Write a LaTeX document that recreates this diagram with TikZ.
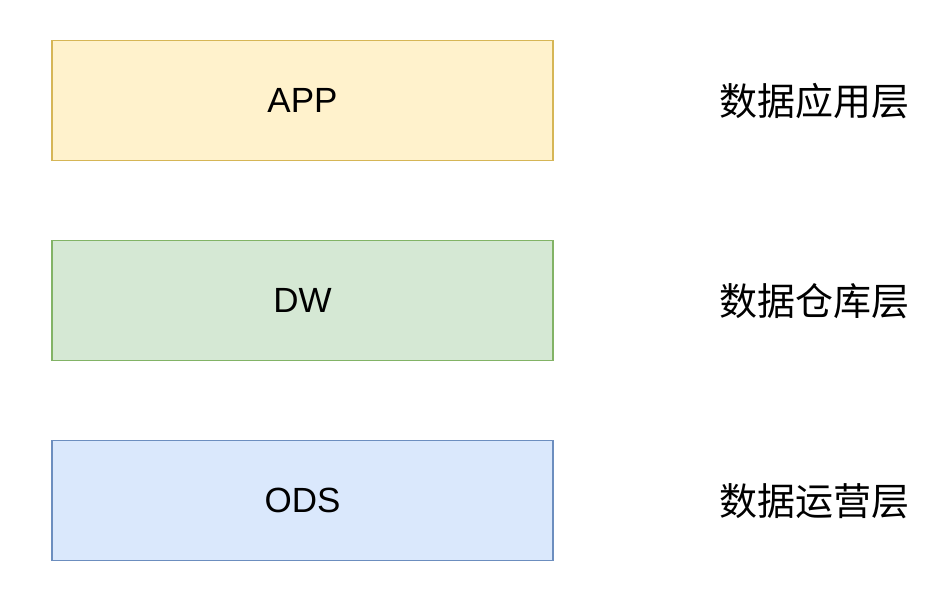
\documentclass[tikz,border=0pt]{standalone}
\usepackage{fontspec}
\setmainfont{Liberation Sans}
\newfontfamily\cjk{Noto Sans CJK SC}
\usepackage{xcolor}
\definecolor{appfill}{HTML}{FFF2CC}
\definecolor{appline}{HTML}{D6B656}
\definecolor{dwfill}{HTML}{D5E8D4}
\definecolor{dwline}{HTML}{82B366}
\definecolor{odsfill}{HTML}{DAE8FC}
\definecolor{odsline}{HTML}{6C8EBF}

\begin{document}
\begin{tikzpicture}[x=1pt,y=-1pt,
	layer/.style={draw,line width=1.8pt,minimum width=501pt,minimum height=120pt,inner sep=0pt,font=\fontsize{35pt}{40pt}\selectfont},
	tag/.style={inner sep=0pt,font=\cjk\fontsize{38pt}{42pt}\selectfont}]
	
	% page
	\useasboundingbox (0,0) rectangle (952,590);
	\node[layer,fill=appfill,draw=appline] (app) at (302.5,100.5) {APP};
	\node[layer,fill=dwfill,draw=dwline] (dw) at (302.5,300.5) {DW};
	\node[layer,fill=odsfill,draw=odsline] (ods) at (302.5,500.5) {ODS};
	\node[tag] (appl) at (814,101) {数据应用层};
	\node[tag] (dwl) at (814,301) {数据仓库层};
	\node[tag] (odsl) at (814,501) {数据运营层};


\end{tikzpicture}
\end{document}
